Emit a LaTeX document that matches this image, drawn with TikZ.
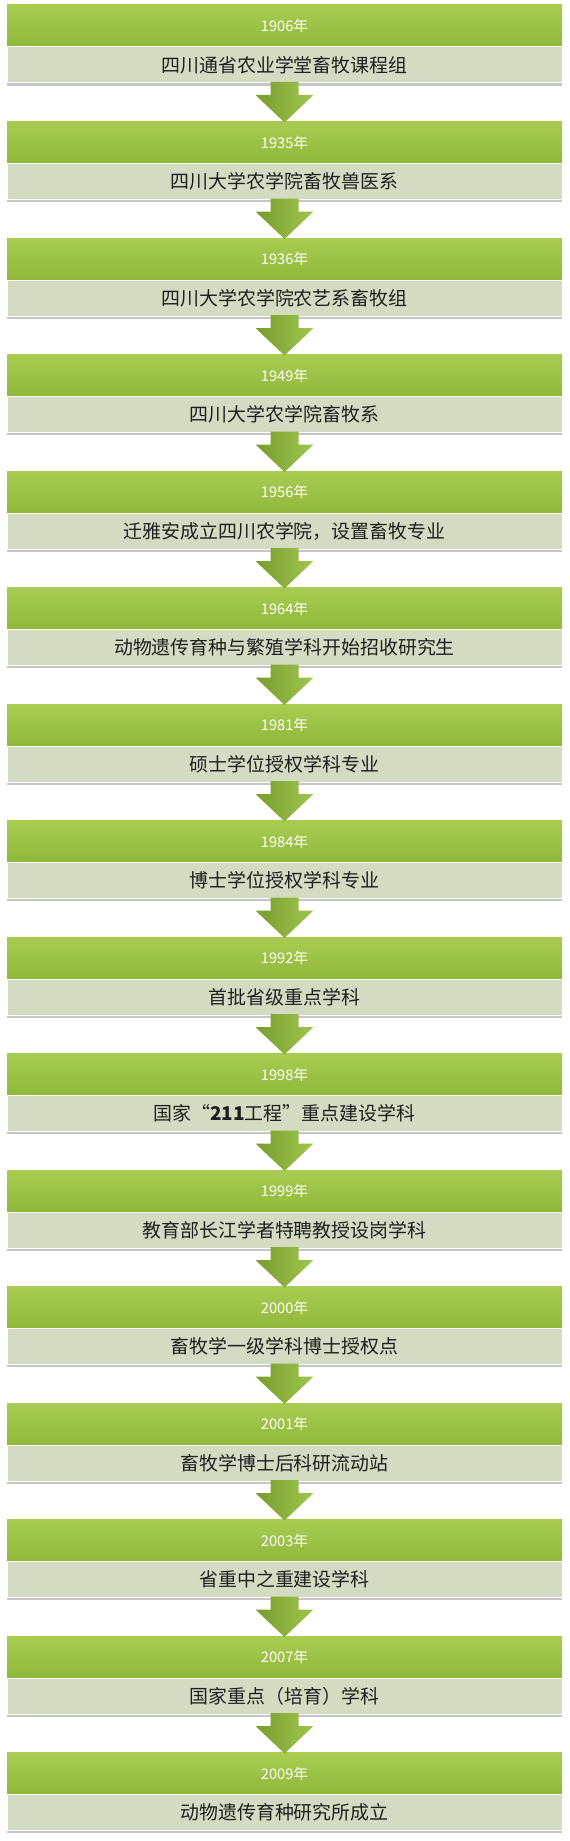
\documentclass[tikz,border=0pt]{standalone}
\usepackage{fontspec}
\setmainfont{Noto Sans CJK SC}
\usepackage{tikz}
\usetikzlibrary{positioning,calc,shadows}
\definecolor{yeartop}{RGB}{168,204,82}
\definecolor{yearbottom}{RGB}{143,184,58}
\definecolor{descfill}{RGB}{211,220,194}
\definecolor{arrowdark}{RGB}{120,156,46}
\definecolor{arrowlight}{RGB}{160,198,78}
\tikzset{
  yearbar/.style={
    rectangle,
    top color=yeartop,
    bottom color=yearbottom,
    minimum width=416.25pt,
    minimum height=31.5pt,
    inner sep=0pt,
    outer sep=0pt,
    text=white,
    font=\fontsize{11}{13}\selectfont,
  },
  descbar/.style={
    rectangle,
    fill=descfill,
    draw=white,
    line width=0.75pt,
    minimum width=416.25pt,
    minimum height=27pt,
    inner sep=0pt,
    outer sep=0pt,
    text=black!88,
    font=\fontsize{14.2}{16}\selectfont,
    drop shadow={shadow xshift=0pt, shadow yshift=-2pt, fill=black!45},
  },
  blockarrow/.style={
    left color=arrowdark,
    right color=arrowlight,
    to path={
      ($(\tikztostart.south)+(-14,1)$) -- ($(\tikztostart.south)+(14,1)$)
      -- ($(\tikztostart.south)+(14,-12)$) -- ($(\tikztostart.south)+(29,-12)$)
      -- ($(\tikztotarget.north)+(0,-1)$)
      -- ($(\tikztostart.south)+(-29,-12)$) -- ($(\tikztostart.south)+(-14,-12)$) -- cycle
    }
  }
}
\begin{document}
\begin{tikzpicture}[x=0.75pt, y=0.75pt, node distance=28.875pt]
    \useasboundingbox (0,0) rectangle (570,-1841);

    \node [yearbar] (yr1906) at (284.5,-26) {1906年};
    \node [descbar, below=0pt of yr1906] (desc1906) {四川通省农业学堂畜牧课程组};

    \node [yearbar, below= of desc1906] (yr1935) {1935年};
    \node [descbar, below=0pt of yr1935] (desc1935) {四川大学农学院畜牧兽医系};

    \node [yearbar, below= of desc1935] (yr1936) {1936年};
    \node [descbar, below=0pt of yr1936] (desc1936) {四川大学农学院农艺系畜牧组};

    \node [yearbar, below= of desc1936] (yr1949) {1949年};
    \node [descbar, below=0pt of yr1949] (desc1949) {四川大学农学院畜牧系};

    \node [yearbar, below= of desc1949] (yr1956) {1956年};
    \node [descbar, below=0pt of yr1956] (desc1956) {迁雅安成立四川农学院，设置畜牧专业};

    \node [yearbar, below= of desc1956] (yr1964) {1964年};
    \node [descbar, below=0pt of yr1964] (desc1964) {动物遗传育种与繁殖学科开始招收研究生};

    \node [yearbar, below= of desc1964] (yr1981) {1981年};
    \node [descbar, below=0pt of yr1981] (desc1981) {硕士学位授权学科专业};

    \node [yearbar, below= of desc1981] (yr1984) {1984年};
    \node [descbar, below=0pt of yr1984] (desc1984) {博士学位授权学科专业};

    \node [yearbar, below= of desc1984] (yr1992) {1992年};
    \node [descbar, below=0pt of yr1992] (desc1992) {首批省级重点学科};

    \node [yearbar, below= of desc1992] (yr1998) {1998年};
    \node [descbar, below=0pt of yr1998] (desc1998) {国家“{\bfseries 211}工程”重点建设学科};

    \node [yearbar, below= of desc1998] (yr1999) {1999年};
    \node [descbar, below=0pt of yr1999] (desc1999) {教育部长江学者特聘教授设岗学科};

    \node [yearbar, below= of desc1999] (yr2000) {2000年};
    \node [descbar, below=0pt of yr2000] (desc2000) {畜牧学一级学科博士授权点};

    \node [yearbar, below= of desc2000] (yr2001) {2001年};
    \node [descbar, below=0pt of yr2001] (desc2001) {畜牧学博士后科研流动站};

    \node [yearbar, below= of desc2001] (yr2003) {2003年};
    \node [descbar, below=0pt of yr2003] (desc2003) {省重中之重建设学科};

    \node [yearbar, below= of desc2003] (yr2007) {2007年};
    \node [descbar, below=0pt of yr2007] (desc2007) {国家重点（培育）学科};

    \node [yearbar, below= of desc2007] (yr2009) {2009年};
    \node [descbar, below=0pt of yr2009] (desc2009) {动物遗传育种研究所成立};

    \path [blockarrow] (desc1906) to (yr1935);
    \path [blockarrow] (desc1935) to (yr1936);
    \path [blockarrow] (desc1936) to (yr1949);
    \path [blockarrow] (desc1949) to (yr1956);
    \path [blockarrow] (desc1956) to (yr1964);
    \path [blockarrow] (desc1964) to (yr1981);
    \path [blockarrow] (desc1981) to (yr1984);
    \path [blockarrow] (desc1984) to (yr1992);
    \path [blockarrow] (desc1992) to (yr1998);
    \path [blockarrow] (desc1998) to (yr1999);
    \path [blockarrow] (desc1999) to (yr2000);
    \path [blockarrow] (desc2000) to (yr2001);
    \path [blockarrow] (desc2001) to (yr2003);
    \path [blockarrow] (desc2003) to (yr2007);
    \path [blockarrow] (desc2007) to (yr2009);
  \end{tikzpicture}
\end{document}
